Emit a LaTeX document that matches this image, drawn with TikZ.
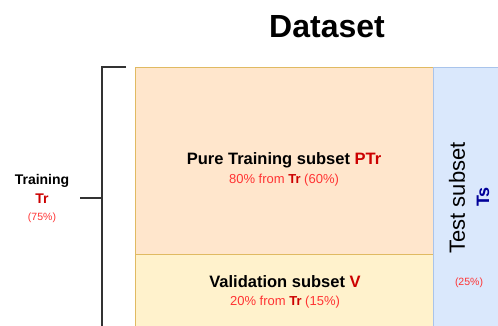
\documentclass[tikz,border=0pt]{standalone}
\usepackage{fontspec}
\setmainfont{Liberation Sans}
\usepackage{xcolor}
\definecolor{ptrfill}{HTML}{FFE6CC}
\definecolor{valfill}{HTML}{FFF2CC}
\definecolor{boxline}{HTML}{E0BA62}
\definecolor{tsfill}{HTML}{DAE8FC}
\definecolor{tsline}{HTML}{A9C4EB}
\definecolor{darkred}{HTML}{CC0000}
\definecolor{lightred}{HTML}{FF3333}
\definecolor{darkblue}{HTML}{000099}
\definecolor{brace}{HTML}{333333}
\newcommand{\fs}[1]{\fontsize{#1}{#1}\selectfont}

\begin{document}
\begin{tikzpicture}[x=1pt,y=-1pt,
  subset/.style={draw=boxline,line width=0.8pt,inner sep=0pt,anchor=north west},
  label/.style={align=center,inner sep=0pt},
  bracket/.style={draw=brace,line width=1.6pt}]
\useasboundingbox (0,0) rectangle (498,325);
\clip (0,0) rectangle (498,325);
%Title
\node[label,font=\bfseries\fs{32}] (title) at (327,27) {Dataset};
%Boxes
\node[subset,fill=ptrfill,minimum width=298pt,minimum height=187pt] (ptr) at (135,67) {};
\node[subset,fill=valfill,minimum width=298pt,minimum height=76pt] (val) at (135,254) {};
\node[subset,draw=tsline,fill=tsfill,minimum width=76pt,minimum height=263pt] (ts) at (433,67) {};
%Bracket
\coordinate (bt) at (126,67);
\coordinate (bc) at (102,67);
\coordinate (bb) at (102,332);
\coordinate (bm) at (102,198);
\coordinate (tick) at (80,198);
\draw[bracket] (bt) -- (bc) -- (bb);
\draw[bracket] (tick) -- (bm);
%Text
\node[label,font=\bfseries\fs{14}] (trname) at (42,181) {Training};
\node[label,font=\bfseries\fs{14},text=darkred] (tr) at (42,199) {Tr};
\node[label,font=\fs{10.5},text=lightred] (trpct) at (42,218) {(75\%)};
\node[label,font=\bfseries\fs{16.5}] (ptrname) at (284,160) {Pure Training subset \textcolor{darkred}{PTr}};
\node[label,font=\fs{13},text=lightred] (ptrpct) at (284,180) {80\% from \textcolor{darkred}{\bfseries Tr} (60\%)};
\node[label,font=\bfseries\fs{16.5}] (valname) at (285,282) {Validation subset \textcolor{darkred}{V}};
\node[label,font=\fs{13},text=lightred] (valpct) at (285,302) {20\% from \textcolor{darkred}{\bfseries Tr} (15\%)};
\node[label,rotate=90,font=\fs{22}] (tsname) at (457,198) {Test subset};
\node[label,rotate=90,font=\bfseries\fs{18},text=darkblue] (tsid) at (483,197) {Ts};
\node[label,font=\fs{10.5},text=lightred] (tspct) at (469,283) {(25\%)};
\end{tikzpicture}
\end{document}
